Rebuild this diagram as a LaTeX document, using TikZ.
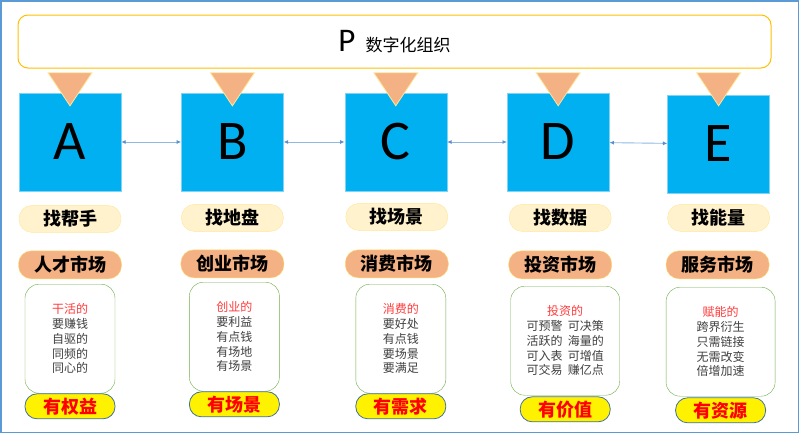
\documentclass[tikz,border=0pt]{standalone}
\usepackage{fontspec}
\setmainfont{Carlito}
\newfontfamily\cjk{Noto Sans CJK SC}
\usetikzlibrary{positioning, arrows.meta}
\definecolor{frameblue}{HTML}{5B9BD5}
\definecolor{titleedge}{HTML}{FFC000}
\definecolor{sqblue}{HTML}{00B0F0}
\definecolor{sqedge}{HTML}{7FD4F5}
\definecolor{droporange}{HTML}{F4B183}
\definecolor{dropedge}{HTML}{FFE699}
\definecolor{findfill}{HTML}{FFF2CC}
\definecolor{findedge}{HTML}{FFE699}
\definecolor{mktfill}{HTML}{F4B183}
\definecolor{mktedge}{HTML}{FFD966}
\definecolor{boxgreen}{HTML}{70AD47}
\definecolor{boxgray}{HTML}{404040}
\definecolor{boxred}{HTML}{FF3B3B}
\definecolor{gainedge}{HTML}{41719C}
\definecolor{linkblue}{HTML}{8FB8E3}
\definecolor{tipblue}{HTML}{5B8FD0}

\begin{document}
\begin{tikzpicture}[
    x=1pt, y=-1pt,
    >={Latex[length=4.5pt,width=4pt,color=tipblue]},
    titlebox/.style={draw=titleedge, line width=1pt, fill=white, rounded corners=10pt, minimum width=753pt, minimum height=53pt},
    sq/.style={fill=sqblue, draw=sqedge, minimum width=102pt, minimum height=98pt, inner sep=0pt, font=\fontsize{56}{56}\selectfont},
    drop/.style={fill=droporange, draw=dropedge, line width=0.8pt},
    findpill/.style={fill=findfill, draw=findedge, rounded corners=13pt, minimum width=102pt, minimum height=27pt, inner sep=0pt, font=\cjk\bfseries\fontsize{18}{18}\selectfont},
    mktpill/.style={fill=mktfill, draw=mktedge, rounded corners=13pt, minimum width=103pt, minimum height=28pt, inner sep=0pt, font=\cjk\bfseries\fontsize{18}{18}\selectfont},
    detail/.style={draw=boxgreen, fill=white, rounded corners=14pt, minimum width=90pt, minimum height=109pt, inner sep=0pt, align=center, text=boxgray, font=\cjk\fontsize{12}{14.75}\selectfont},
    gain/.style={fill=yellow, draw=gainedge, line width=0.8pt, rounded corners=12pt, minimum width=90pt, minimum height=25pt, inner sep=0pt, text=red, font=\cjk\bfseries\fontsize{18}{18}\selectfont},
    link/.style={<->, draw=linkblue, line width=0.9pt}
]
\useasboundingbox (0,0) rectangle (800,434);
\draw[frameblue, line width=1.6pt] (1,1) rectangle (798.5,432.5);

\node[titlebox] (P) at (394.5,41.5) {{\fontsize{33}{33}\selectfont P}\hspace{10pt}{\cjk\fontsize{17}{17}\selectfont 数字化组织}};

\node[sq] (A) at (70,142) {A};
\node[sq, right=60pt of A] (B) {B};
\node[sq, right=61pt of B] (C) {C};
\node[sq, right=60pt of C] (D) {D};
\node[sq, right=58pt of D, yshift=-2pt] (E) {E};

\filldraw[drop] ([shift={(-22pt,20pt)}]A.north) -- ([shift={(22pt,20pt)}]A.north) -- ([yshift=-13pt]A.north) -- cycle;
\filldraw[drop] ([shift={(-22pt,20pt)}]B.north) -- ([shift={(22pt,20pt)}]B.north) -- ([yshift=-13pt]B.north) -- cycle;
\filldraw[drop] ([shift={(-22pt,20pt)}]C.north) -- ([shift={(22pt,20pt)}]C.north) -- ([yshift=-13pt]C.north) -- cycle;
\filldraw[drop] ([shift={(-22pt,20pt)}]D.north) -- ([shift={(22pt,20pt)}]D.north) -- ([yshift=-13pt]D.north) -- cycle;
\filldraw[drop] ([shift={(-22pt,22pt)}]E.north) -- ([shift={(22pt,22pt)}]E.north) -- ([yshift=-11pt]E.north) -- cycle;

\draw[link] (A) -- (B);
\draw[link] (B) -- (C);
\draw[link] (C) -- (D);
\draw[link] (D) -- (E);

% column A
\node[findpill, below=14pt of A] (fA) {找帮手};
\node[mktpill, below=18pt of fA] (mA) {人才市场};
\node[detail, below=5pt of mA] (dA) {\textcolor{boxred}{干活的}\\要赚钱\\自驱的\\同频的\\同心的};
\node[gain, below=0pt of dA] (gA) {有权益};

% column B
\node[findpill, below=13pt of B] (fB) {找地盘};
\node[mktpill, below=18pt of fB] (mB) {创业市场};
\node[detail, below=4pt of mB, xshift=2pt] (dB) {\textcolor{boxred}{创业的}\\要利益\\有点钱\\有场地\\有场景};
\node[gain, below=0pt of dB] (gB) {有场景};

% column C
\node[findpill, below=12pt of C, xshift=1pt] (fC) {找场景};
\node[mktpill, below=19pt of fC] (mC) {消费市场};
\node[detail, below=6pt of mC, xshift=4pt] (dC) {\textcolor{boxred}{消费的}\\要好处\\有点钱\\要场景\\要满足};
\node[gain, below=0pt of dC] (gC) {有需求};

% column D
\node[findpill, below=13pt of D, xshift=2pt] (fD) {找数据};
\node[mktpill, below=19pt of fD] (mD) {投资市场};
\node[detail, minimum width=109pt, below=7pt of mD, xshift=5pt] (dD) {\textcolor{boxred}{投资的}\\可预警\hspace{0.45em}可决策\\活跃的\hspace{0.45em}海量的\\可入表\hspace{0.45em}可增值\\可交易\hspace{0.45em}赚亿点};
\node[gain, below=1pt of dD] (gD) {有价值};

% column E
\node[findpill, below=11pt of E] (fE) {找能量};
\node[mktpill, below=19pt of fE, xshift=-1pt] (mE) {服务市场};
\node[detail, minimum width=109pt, below=8pt of mE, xshift=3pt] (dE) {\textcolor{boxred}{赋能的}\\跨界衍生\\只需链接\\无需改变\\倍增加速};
\node[gain, below=1pt of dE] (gE) {有资源};
\end{tikzpicture}
\end{document}
